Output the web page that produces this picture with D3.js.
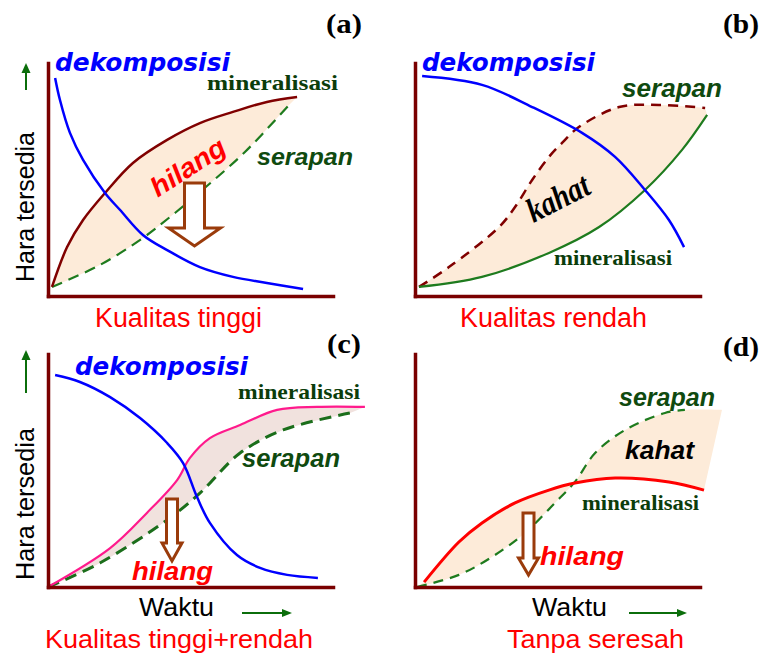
<!DOCTYPE html>
<html><head><meta charset="utf-8">
<script src="https://cdn.jsdelivr.net/npm/d3@7"></script>
<style>html,body{margin:0;padding:0;background:#fff;} svg{display:block;}</style>
</head><body><svg id="c" width="764" height="656"></svg>
<script>
// ---------------- data (x = Waktu 0-100, y = Hara tersedia 0-100) ----------------
const panelIds = ["(a)", "(b)", "(c)", "(d)"];
const panelTitles = ["Kualitas tinggi", "Kualitas rendah", "Kualitas tinggi+rendah", "Tanpa seresah"];
const yLabel = "Hara tersedia";
const xLabel = "Waktu";
const seriesNames = ["dekomposisi", "mineralisasi", "serapan"];
const gapLabels = ["hilang", "kahat"];

// (a) Kualitas tinggi
const aDekomposisi = [[2.5,93.6],[4.2,84.1],[7.7,70.0],[12.3,58.4],[20.0,44.2],[25.3,36.9],[33.3,26.2],[41.8,19.7],[53.3,12.4],[64.9,8.2],[76.8,5.6],[89.5,3.0]];
const aMineralisasi = [[1.4,3.9],[6.7,21.0],[12.3,32.6],[20.0,44.2],[29.8,57.1],[41.8,67.0],[53.3,74.2],[64.9,79.0],[76.8,83.3],[87.4,85.4]];
const aSerapan = [[1.4,3.9],[18.2,13.3],[33.3,24.9],[42.8,33.9],[53.3,44.6],[69.1,61.8],[84.2,81.5]];

// (b) Kualitas rendah
const bDekomposisi = [[2.5,94.4],[23.5,90.6],[41.1,81.1],[58.6,70.0],[70.2,59.7],[80.7,45.5],[89.1,32.6],[94.4,21.0]];
const bMineralisasi = [[1.4,3.9],[23.5,8.2],[47.0,18.5],[64.6,29.6],[80.7,45.5],[93.7,62.7],[102.5,77.7]];
const bSerapan = [[1.4,3.9],[11.9,12.4],[29.5,29.6],[35.1,38.2],[41.1,49.8],[47.0,59.7],[51.6,65.7],[57.5,72.5],[71.6,81.1],[85.6,82.0],[101.8,80.7]];

// (c) Kualitas tinggi+rendah
const cDekomposisi = [[2.5,91.0],[11.2,88.0],[21.8,81.5],[32.3,72.5],[41.8,61.8],[47.4,53.2],[52.3,38.6],[56.8,27.5],[66.3,13.7],[74.4,8.2],[83.9,5.2],[94.7,3.9]];
const cMineralisasi = [[0,0],[21.8,16.7],[34.7,31.8],[45.3,45.9],[49.8,55.4],[56.8,63.9],[67.4,69.5],[80.4,76.0],[94.4,77.3],[111.2,77.3]];
const cSerapan = [[0,0],[18.2,10.3],[41.8,28.8],[53.3,40.3],[67.4,57.5],[82.5,67.4],[106.0,74.7]];

// (d) Tanpa seresah
const dMineralisasi = [[3.2,2.1],[15.4,19.3],[23.5,27.5],[35.1,36.1],[47.0,41.6],[56.1,44.6],[70.2,46.8],[89.1,45.1],[101.4,41.6]];
const dSerapan = [[0.7,0],[15.4,5.2],[27.0,12.9],[38.6,23.2],[49.1,36.1],[56.1,45.1],[63.2,57.5],[73.7,67.4],[87.7,74.7],[94.7,76.0]];
const dKahatEdge = [[107.7,76.0]];

// ---------------- layout ----------------
const svg = d3.select("#c");
const W = 285, H = 233;
const frames = [{l:48,b:296},{l:415,b:296},{l:48,b:587},{l:415,b:587}];
const SANS = "'Liberation Sans', Arial, sans-serif";
const SERIF = "'Liberation Serif', 'Times New Roman', serif";
const VERD = "'DejaVu Sans', Verdana, sans-serif";
const AXIS = "#7a0000";

function scales(i){
  const f = frames[i];
  return {x: d3.scaleLinear([0,100],[f.l,f.l+W]), y: d3.scaleLinear([0,100],[f.b,f.b-H])};
}
function lineGen(i, curve){
  const {x,y} = scales(i);
  return d3.line().x(d=>x(d[0])).y(d=>y(d[1])).curve(curve || d3.curveCatmullRom.alpha(0.5));
}
function band(i, upper, lower, color){
  const line = lineGen(i);
  const p1 = line(upper), p2 = line(lower.slice().reverse());
  svg.append("path").attr("d", p1 + "L" + p2.slice(1) + "Z").attr("fill", color).attr("stroke","none");
}
function curve(i, data, color, w, dash){
  const p = svg.append("path").attr("d", lineGen(i)(data)).attr("fill","none")
    .attr("stroke", color).attr("stroke-width", w).attr("stroke-linejoin","round");
  if (dash) p.attr("stroke-dasharray", dash);
}
function axes(i){
  const {x,y} = scales(i); const f = frames[i];
  const gx = svg.append("g").attr("transform",`translate(0,${f.b})`).call(d3.axisBottom(x).tickValues([]).tickSizeOuter(0));
  const gy = svg.append("g").attr("transform",`translate(${f.l},0)`).call(d3.axisLeft(y).tickValues([]).tickSizeOuter(0));
  [gx,gy].forEach(g=>g.select(".domain").attr("stroke",AXIS).attr("stroke-width",3.5).attr("stroke-linecap","square"));
}
function label(str, x, y, o){
  const t = svg.append("text").text(str)
    .attr("font-family", o.ff).attr("font-size", o.fs)
    .attr("font-weight", o.fw || "normal").attr("font-style", o.st || "normal")
    .attr("fill", o.c || "#000");
  if (o.rot != null) {
    t.attr("x",0).attr("y",0).attr("text-anchor","middle")
     .attr("transform", `translate(${x},${y}) rotate(${o.rot})`);
  } else {
    t.attr("x", x).attr("y", y);
  }
  if (o.len) t.attr("textLength", o.len).attr("lengthAdjust","spacingAndGlyphs");
  return t;
}
function hollowArrow(cx, top, headTop, tip, sw, hw){
  const pts = [[cx-sw,top],[cx+sw,top],[cx+sw,headTop],[cx+hw,headTop],[cx,tip],[cx-hw,headTop],[cx-sw,headTop]];
  svg.append("path").attr("d", d3.line()(pts) + "Z").attr("fill","#fff")
    .attr("stroke","#9a3b0b").attr("stroke-width",3).attr("stroke-linejoin","miter");
}
function greenUp(x, bottom, tip){
  svg.append("line").attr("x1",x).attr("x2",x).attr("y1",bottom).attr("y2",tip+8).attr("stroke","#0b6e0b").attr("stroke-width",2);
  svg.append("path").attr("d", d3.line()([[x-4.5,tip+10],[x+4.5,tip+10],[x,tip]])+"Z").attr("fill","#0b6e0b");
}
function greenRight(x0, tipX, y){
  svg.append("line").attr("x1",x0).attr("x2",tipX-8).attr("y1",y).attr("y2",y).attr("stroke","#0b6e0b").attr("stroke-width",2);
  svg.append("path").attr("d", d3.line()([[tipX-10,y-4],[tipX-10,y+4],[tipX,y]])+"Z").attr("fill","#0b6e0b");
}

const BLUE = "#0000ff", MAROON = "#800000", GREEN = "#1e7b1e", PEACH = "#fdebd9";
const TXTGREEN = "#0b3d0b", SERGREEN = "#0f4a0f", RED = "#ff0000";

// ---------------- panel (a) ----------------
band(0, aMineralisasi, aSerapan, PEACH);
curve(0, aSerapan, GREEN, 2.2, "11,7");
curve(0, aMineralisasi, MAROON, 2.5);
curve(0, aDekomposisi, BLUE, 2.5);
axes(0);
hollowArrow(194.5, 183, 228, 246, 10, 26);
greenUp(26, 90, 63);
label(panelIds[0], 326, 33, {ff:SERIF, fs:28, fw:"bold", len:36});
label(seriesNames[0], 55, 71, {ff:VERD, fs:25, fw:"bold", st:"italic", c:BLUE, len:175});
label(seriesNames[1], 207, 90, {ff:SERIF, fs:22, fw:"bold", c:TXTGREEN, len:131});
label(seriesNames[2], 257, 165, {ff:SANS, fs:24, fw:"bold", st:"italic", c:SERGREEN, len:96});
label(gapLabels[0], 193, 175, {ff:SANS, fs:27, fw:"bold", st:"italic", c:RED, len:84, rot:-33});
label(panelTitles[0], 95, 327, {ff:SANS, fs:27, c:RED, len:167});
label(yLabel, 34, 207, {ff:SANS, fs:25, c:"#000", len:150, rot:-90});

// ---------------- panel (b) ----------------
band(1, bSerapan, bMineralisasi, PEACH);
curve(1, bSerapan, MAROON, 2.5, "10,7");
curve(1, bMineralisasi, GREEN, 2.2);
curve(1, bDekomposisi, BLUE, 2.5);
axes(1);
label(panelIds[1], 723, 33, {ff:SERIF, fs:28, fw:"bold", len:36});
label(seriesNames[0], 422, 71, {ff:VERD, fs:25, fw:"bold", st:"italic", c:BLUE, len:173});
label(seriesNames[2], 622, 97, {ff:SANS, fs:25, fw:"bold", st:"italic", c:SERGREEN, len:100});
label(gapLabels[1], 563, 208, {ff:SERIF, fs:34, fw:"bold", st:"italic", c:"#000", len:66, rot:-27});
label(seriesNames[1], 554, 265, {ff:SERIF, fs:21, fw:"bold", c:TXTGREEN, len:118});
label(panelTitles[1], 460, 327, {ff:SANS, fs:27, c:RED, len:187});

// ---------------- panel (c) ----------------
band(2, cMineralisasi, cSerapan, "#f1e2de");
curve(2, cSerapan, "#1b6e1b", 3, "12,7");
curve(2, cMineralisasi, "#ff1a8c", 2.2);
curve(2, cDekomposisi, BLUE, 2.5);
axes(2);
hollowArrow(172, 499, 543, 561, 5.5, 10);
greenUp(26, 393, 350);
greenRight(242, 292, 613);
label(panelIds[2], 327, 353, {ff:SERIF, fs:28, fw:"bold", len:34});
label(seriesNames[0], 75, 375, {ff:VERD, fs:25, fw:"bold", st:"italic", c:BLUE, len:173});
label(seriesNames[1], 238, 399, {ff:SERIF, fs:22, fw:"bold", c:TXTGREEN, len:122});
label(seriesNames[2], 242, 467, {ff:SANS, fs:25, fw:"bold", st:"italic", c:SERGREEN, len:98});
label(gapLabels[0], 132, 580, {ff:SANS, fs:26, fw:"bold", st:"italic", c:RED, len:81});
label(xLabel, 139, 616, {ff:SANS, fs:26.5, c:"#000", len:75});
label(panelTitles[2], 45, 648, {ff:SANS, fs:26, c:RED, len:268});
label(yLabel, 34, 504, {ff:SANS, fs:25, c:"#000", len:152, rot:-90});

// ---------------- panel (d) ----------------
band(3, dSerapan.concat(dKahatEdge), dMineralisasi, PEACH);
curve(3, dSerapan, GREEN, 2.2, "10,7");
curve(3, dMineralisasi, RED, 3);
axes(3);
hollowArrow(528.5, 513, 558, 575, 5.5, 10);
greenRight(629, 687, 613);
label(panelIds[3], 723, 356, {ff:SERIF, fs:28, fw:"bold", len:36});
label(seriesNames[2], 619, 406, {ff:SANS, fs:25, fw:"bold", st:"italic", c:SERGREEN, len:96});
label(gapLabels[1], 625, 459, {ff:SANS, fs:26, fw:"bold", st:"italic", c:"#000", len:69});
label(seriesNames[1], 582, 510, {ff:SERIF, fs:21, fw:"bold", c:TXTGREEN, len:117});
label(gapLabels[0], 540, 565, {ff:SANS, fs:26, fw:"bold", st:"italic", c:RED, len:84});
label(xLabel, 532, 616, {ff:SANS, fs:26.5, c:"#000", len:75});
label(panelTitles[3], 507, 648, {ff:SANS, fs:26, c:RED, len:177});
</script></body></html>
